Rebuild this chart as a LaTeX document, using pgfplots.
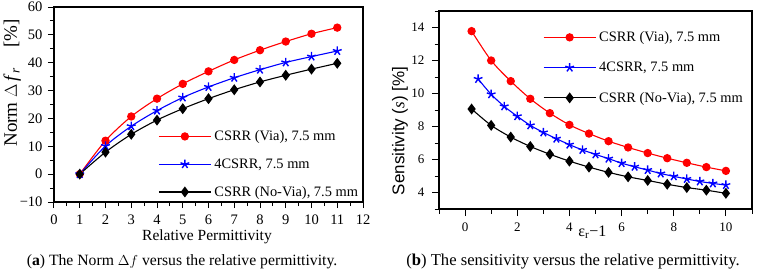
\documentclass[border=0pt]{standalone}
\usepackage{fontspec}
\setmainfont{Liberation Serif}
\setsansfont{Liberation Sans}
\usepackage{pgfplots}
\pgfplotsset{compat=1.18}
\newcommand\legfont{\fontsize{14.4}{17}\selectfont}
\newcommand\tickfontA{\fontsize{14.5}{16}\selectfont}
\newcommand\tickfontB{\fontsize{13}{15}\selectfont}
\begin{document}
\begin{tikzpicture}
\useasboundingbox (0pt,0pt) rectangle (758pt,274pt);
\pgfplotsset{
  every axis/.append style={
    scale only axis,
    axis line style={line width=1.1pt},
    every tick/.style={line width=1pt, black},
    tick pos=left, tick align=outside,
    /pgf/number format/assume math mode=true,
    legend cell align=left,
    legend image code/.code={
      \draw[mark repeat=2,mark phase=2,#1] plot coordinates {(0pt,0pt) (26pt,0pt) (52pt,0pt)};
    },
  },
  redS/.style={red, line width=1.1pt, mark=*, mark size=3.6pt, mark options={solid, fill=red}},
  blueS/.style={blue, line width=1.1pt, mark=star, mark size=4.6pt, mark options={solid, line width=1.4pt}},
  blackS/.style={black, line width=1.1pt, mark=diamond*, mark size=4.6pt, mark options={solid, fill=black}},
}
% ---------------- left -----------------
\begin{axis}[
  at={(54pt,72pt)}, anchor=south west, width=309pt, height=195pt,
  xmin=0, xmax=12, ymin=-10, ymax=60,
  major tick length=6pt, minor tick length=4pt,
  xtick={0,1,...,12}, minor xtick={0.5,1.5,...,11.5},
  ytick={-10,0,10,20,30,40,50,60},
  yticklabels={−10,0,10,20,30,40,50,60},
  minor ytick={-5,5,15,25,35,45,55},
  tick label style={font=\tickfontA},
  xticklabel style={yshift=-3pt},
  yticklabel style={xshift=-2pt},
  xlabel={Relative Permittivity},
  ylabel={Norm\ $\Delta$\,\textit{f}\textsubscript{\textit{r}}\hspace{20pt}[\%]},
  xlabel style={font=\fontsize{15.5}{17}\selectfont, at={(axis description cs:0.495,-0.18)}, anchor=center},
  ylabel style={font=\fontsize{19}{21}\selectfont, at={(axis description cs:-0.135,0.61)}, anchor=center},
  legend style={draw=none, fill=none, font=\legfont,
      at={(axis description cs:0.337,0.377)}, anchor=north west,
      inner sep=0pt, row sep=12.5pt, column sep=1pt},
]
\addplot[redS, smooth, tension=0.5] coordinates {(1,0) (2,12.0) (3,20.7) (4,27.1) (5,32.4) (6,36.9) (7,41.0) (8,44.5) (9,47.6) (10,50.4) (11,52.6)};
\addlegendentry{CSRR (Via), 7.5 mm}
\addplot[blueS, smooth, tension=0.5] coordinates {(1,0) (2,10.1) (3,17.2) (4,22.8) (5,27.5) (6,31.3) (7,34.6) (8,37.5) (9,40.1) (10,42.2) (11,44.2)};
\addlegendentry{4CSRR, 7.5 mm}
\addplot[blackS, smooth, tension=0.5] coordinates {(1,0) (2,7.9) (3,14.3) (4,19.4) (5,23.5) (6,27.1) (7,30.3) (8,33.1) (9,35.5) (10,37.7) (11,39.8)};
\addlegendentry{CSRR (No-Via), 7.5 mm}
\end{axis}
% ---------------- right -----------------
\begin{axis}[
  at={(439pt,65pt)}, anchor=south west, width=313pt, height=198pt,
  xmin=-1, xmax=11, ymin=3, ymax=15,
  major tick length=7pt, minor tick length=4.5pt,
  xtick={0,2,...,10}, minor xtick={-1,1,...,11},
  ytick={4,6,...,14}, minor ytick={3,5,...,15},
  tick label style={font=\tickfontB},
  xticklabel style={yshift=-3pt},
  yticklabel style={xshift=-4pt},
  xlabel={ε\textsubscript{r}−1},
  ylabel={\sffamily Sensitivity (\textit{\rmfamily s}) [\%]},
  xlabel style={font=\fontsize{16}{18}\selectfont, at={(axis description cs:0.49,-0.118)}, anchor=center},
  ylabel style={font=\fontsize{17}{19}\selectfont, at={(axis description cs:-0.125,0.394)}, anchor=center},
  legend style={draw=none, fill=none, font=\legfont,
      at={(axis description cs:0.332,0.907)}, anchor=north west,
      inner sep=0pt, row sep=15pt, column sep=1pt},
]
\addplot[redS, smooth, tension=0.5] coordinates {(0.25,13.78) (1,12.0) (1.75,10.75) (2.5,9.68) (3.25,8.81) (4,8.1) (4.75,7.57) (5.5,7.11) (6.25,6.73) (7,6.39) (7.75,6.08) (8.5,5.8) (9.25,5.54) (10,5.31)};
\addlegendentry{CSRR (Via), 7.5 mm}
\addplot[blueS, smooth, tension=0.5] coordinates {(0.5,10.88) (1,9.95) (1.5,9.22) (2,8.62) (2.5,8.07) (3,7.64) (3.5,7.26) (4,6.9) (4.5,6.58) (5,6.31) (5.5,6.05) (6,5.78) (6.5,5.56) (7,5.36) (7.5,5.15) (8,4.98) (8.5,4.82) (9,4.67) (9.5,4.55) (10,4.45)};
\addlegendentry{4CSRR, 7.5 mm}
\addplot[blackS, smooth, tension=0.5] coordinates {(0.25,9.06) (1,8.07) (1.75,7.36) (2.5,6.79) (3.25,6.32) (4,5.9) (4.75,5.54) (5.5,5.22) (6.25,4.95) (7,4.73) (7.75,4.5) (8.5,4.3) (9.25,4.14) (10,3.95)};
\addlegendentry{CSRR (No-Via), 7.5 mm}
\end{axis}
\node[font=\fontsize{15.7}{18}\selectfont] at (182pt,12pt) {(\textbf{a}) The Norm $\Delta f$ versus the relative permittivity.};
\node[font=\fontsize{16.6}{18}\selectfont] at (573pt,12pt) {(\textbf{b}) The sensitivity versus the relative permittivity.};
\end{tikzpicture}
\end{document}
